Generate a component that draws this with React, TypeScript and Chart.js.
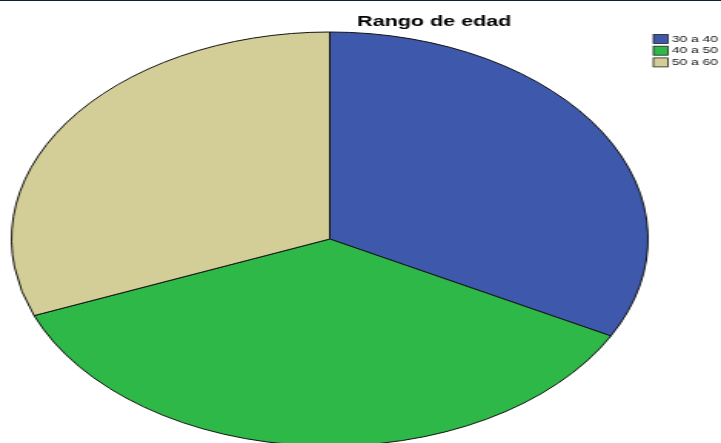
import React, { useEffect, useRef } from "react";
import { Chart, registerables } from "chart.js";

Chart.register(...registerables);

const chartTitle = "Rango de edad";
const categories = ["30 a 40", "40 a 50", "50 a 60"];
const counts = [19, 21, 18];
const sliceColors = ["#3e58ac", "#2eb848", "#d3ce97"];

// The reference is a stretched render: draw at native width, then stretch horizontally.
const OUT_W = 721;
const OUT_H = 443;
const NATIVE_W = 469;
const NATIVE_H = 478;
const STRETCH = OUT_W / NATIVE_W;

const overlayPlugin = {
  id: "titleLegend",
  afterDraw(chart: any) {
    const ctx = chart.ctx as CanvasRenderingContext2D;
    ctx.save();
    // title
    ctx.fillStyle = "#000";
    ctx.font = "bold 14px 'Liberation Sans', Arial, sans-serif";
    ctx.textAlign = "center";
    ctx.textBaseline = "alphabetic";
    ctx.fillText(chartTitle, 282.5, 25.5);
    // legend
    const labels = chart.data.labels as string[];
    const colors = chart.data.datasets[0].backgroundColor as string[];
    ctx.font = "9px 'Liberation Sans', Arial, sans-serif";
    ctx.textAlign = "left";
    ctx.textBaseline = "middle";
    labels.forEach((lab, i) => {
      const y = 34.5 + i * 11.7;
      ctx.fillStyle = colors[i];
      ctx.fillRect(425, y, 9.5, 9);
      ctx.strokeStyle = "#222";
      ctx.lineWidth = 0.8;
      ctx.strokeRect(425, y, 9.5, 9);
      ctx.fillStyle = "#111";
      ctx.fillText(lab, 437, y + 4.8);
    });
    ctx.restore();
  },
};

export default function App() {
  const canvasRef = useRef<HTMLCanvasElement | null>(null);

  useEffect(() => {
    document.body.style.margin = "0";
    const canvas = canvasRef.current;
    if (!canvas) return;
    const chart = new Chart(canvas, {
      type: "pie",
      data: {
        labels: categories,
        datasets: [
          {
            data: counts,
            backgroundColor: sliceColors,
            borderColor: "#111",
            borderWidth: 1,
          },
        ],
      },
      options: {
        responsive: false,
        animation: false,
        events: [],
        radius: 207,
        layout: { padding: { left: 0, right: 40, top: 0, bottom: 0 } },
        plugins: {
          legend: { display: false },
          title: { display: false },
          tooltip: { enabled: false },
        },
      } as any,
      plugins: [overlayPlugin],
    });
    return () => chart.destroy();
  }, []);

  return (
    <div
      style={{
        position: "fixed",
        left: 0,
        top: 0,
        width: OUT_W,
        height: OUT_H,
        overflow: "hidden",
        background: "#fff",
      }}
    >
      <div
        style={{
          width: NATIVE_W,
          height: NATIVE_H,
          transform: `scaleX(${STRETCH})`,
          transformOrigin: "0 0",
        }}
      >
        <canvas
          ref={canvasRef}
          width={NATIVE_W}
          height={NATIVE_H}
          style={{ width: NATIVE_W, height: NATIVE_H, display: "block" }}
        />
      </div>
      <div
        style={{
          position: "absolute",
          left: 0,
          top: 0,
          width: OUT_W,
          height: 1,
          background: "#10222f",
        }}
      />
    </div>
  );
}
